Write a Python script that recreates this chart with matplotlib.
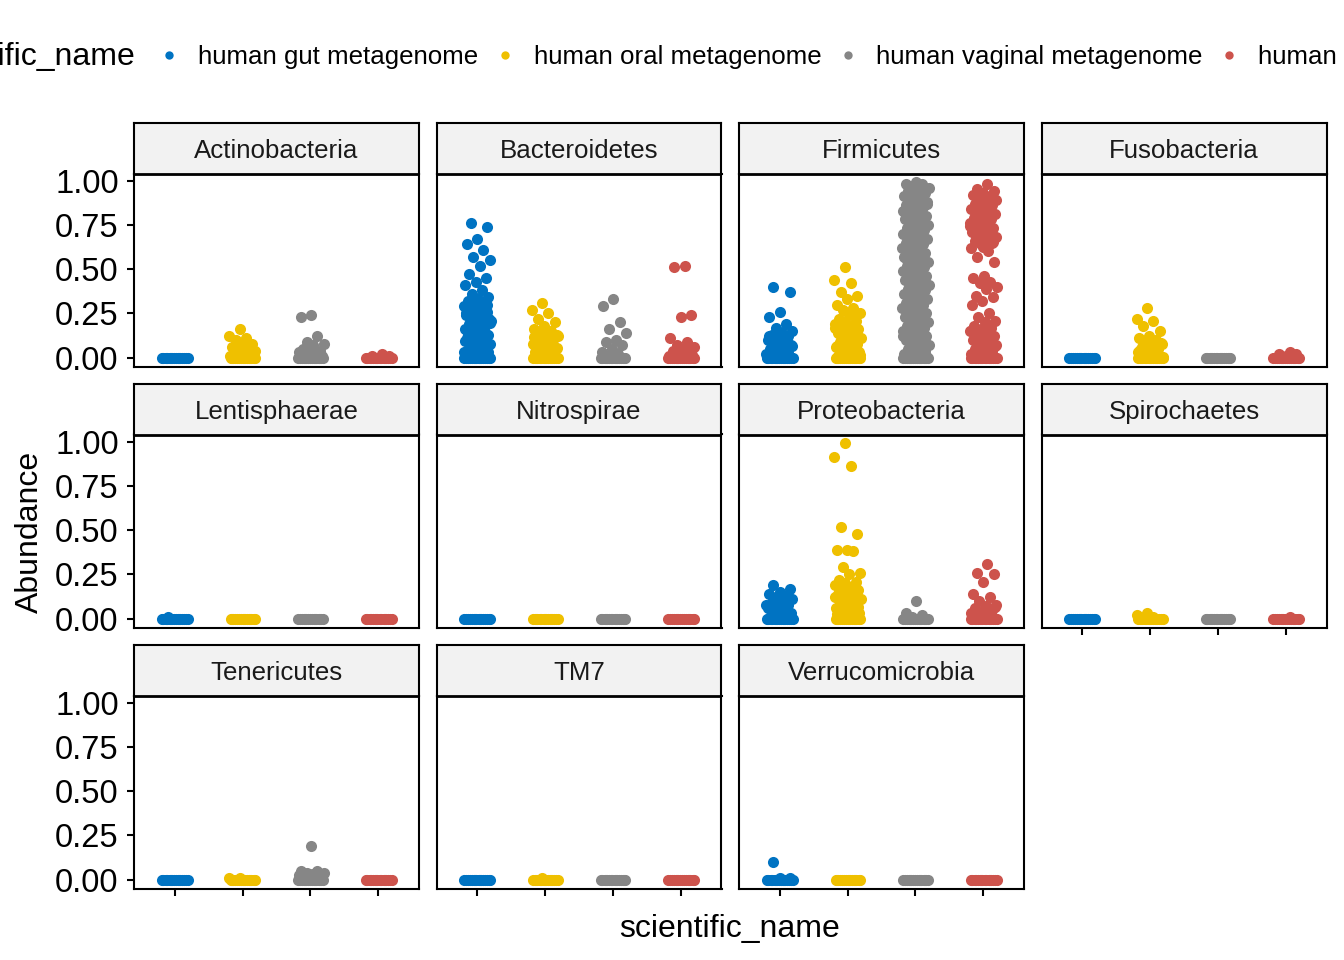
import numpy as np
import matplotlib
matplotlib.use("Agg")
import matplotlib.pyplot as plt

plt.rcParams['font.family'] = ['Liberation Sans', 'DejaVu Sans']

# groups and colours (jco palette)
groups = ["human gut metagenome", "human oral metagenome",
          "human vaginal metagenome", "human skin metagenome"]
colors = ["#0073C2", "#EFC000", "#868686", "#CD534C"]

phyla = ["Actinobacteria", "Bacteroidetes", "Firmicutes", "Fusobacteria",
         "Lentisphaerae", "Nitrospirae", "Proteobacteria", "Spirochaetes",
         "Tenericutes", "TM7", "Verrucomicrobia"]

# many samples sit at zero abundance
ZEROS = [0, 0, 0, 0, 0, 0, 0, 0, 0, 0, 0, 0, 0, 0, 0, 0]

# abundance values per phylum: [gut, oral, vaginal, other]
actinobacteria = [
    ZEROS,
    ZEROS + [0.16, 0.12, 0.11, 0.10, 0.08, 0.07, 0.06, 0.05, 0.04, 0.04,
             0.03, 0.03, 0.02, 0.02, 0.01, 0.01, 0.03, 0.02, 0.01],
    ZEROS + [0.24, 0.23, 0.12, 0.09, 0.08, 0.07, 0.05, 0.04, 0.03, 0.03,
             0.02, 0.02, 0.01, 0.01, 0.02, 0.01],
    ZEROS + [0.02, 0.01, 0.01],
]
bacteroidetes = [
    ZEROS + [0.76, 0.74, 0.67, 0.64, 0.61, 0.57, 0.55, 0.52, 0.47, 0.45,
             0.43, 0.41, 0.38, 0.36, 0.34, 0.33, 0.32, 0.31, 0.30, 0.29,
             0.28, 0.27, 0.26, 0.25, 0.24, 0.23, 0.22, 0.21, 0.20, 0.19,
             0.18, 0.17, 0.16, 0.15, 0.14, 0.13, 0.12, 0.11, 0.10, 0.09,
             0.08, 0.07, 0.06, 0.05, 0.04, 0.03, 0.02, 0.01, 0.22, 0.17,
             0.13, 0.09, 0.06, 0.03, 0.02, 0.01, 0.295, 0.275, 0.255,
             0.235, 0.215, 0.195, 0.175, 0.155, 0.135, 0.115, 0.095, 0.075,
             0.055, 0.035, 0.015, 0.005, 0.285, 0.245, 0.205, 0.165, 0.125,
             0.085, 0.045, 0.025],
    ZEROS + [0.31, 0.27, 0.25, 0.22, 0.20, 0.18, 0.16, 0.15, 0.14, 0.13,
             0.12, 0.11, 0.10, 0.09, 0.08, 0.07, 0.06, 0.05, 0.04, 0.03,
             0.02, 0.01, 0.12, 0.08, 0.05, 0.03, 0.135, 0.115, 0.095,
             0.075, 0.055, 0.035, 0.015, 0.005],
    ZEROS + [0.33, 0.29, 0.20, 0.16, 0.14, 0.10, 0.09, 0.07, 0.05, 0.03,
             0.02, 0.01],
    ZEROS + [0.52, 0.51, 0.24, 0.23, 0.11, 0.09, 0.07, 0.06, 0.05, 0.04,
             0.03, 0.02, 0.01, 0.045, 0.025, 0.015],
]
firmicutes = [
    ZEROS + [0.40, 0.37, 0.26, 0.23, 0.19, 0.17, 0.15, 0.14, 0.13, 0.12,
             0.11, 0.10, 0.09, 0.08, 0.07, 0.06, 0.05, 0.04, 0.03, 0.02,
             0.01, 0.10, 0.07, 0.04, 0.125, 0.105, 0.085, 0.065, 0.045,
             0.035, 0.025, 0.015, 0.005],
    ZEROS + [0.51, 0.44, 0.42, 0.37, 0.35, 0.33, 0.30, 0.28, 0.27, 0.25,
             0.24, 0.22, 0.21, 0.20, 0.19, 0.18, 0.17, 0.16, 0.15, 0.14,
             0.13, 0.12, 0.11, 0.10, 0.09, 0.08, 0.07, 0.06, 0.05, 0.04,
             0.03, 0.02, 0.01, 0.235, 0.195, 0.165, 0.145, 0.125, 0.105,
             0.085, 0.065, 0.045, 0.025, 0.015, 0.005],
    ZEROS + [0.99, 0.98, 0.98, 0.97, 0.96, 0.95, 0.94, 0.93, 0.92, 0.91,
             0.90, 0.89, 0.88, 0.87, 0.86, 0.85, 0.84, 0.83, 0.82, 0.81,
             0.80, 0.79, 0.78, 0.77, 0.76, 0.75, 0.74, 0.73, 0.72, 0.71,
             0.70, 0.69, 0.68, 0.67, 0.66, 0.65, 0.64, 0.63, 0.62, 0.61,
             0.60, 0.59, 0.58, 0.57, 0.56, 0.55, 0.54, 0.53, 0.52, 0.51,
             0.50, 0.49, 0.48, 0.47, 0.46, 0.45, 0.44, 0.43, 0.42, 0.41,
             0.40, 0.39, 0.38, 0.37, 0.36, 0.35, 0.34, 0.33, 0.32, 0.31,
             0.30, 0.29, 0.28, 0.27, 0.26, 0.25, 0.24, 0.23, 0.22, 0.21,
             0.20, 0.19, 0.18, 0.17, 0.16, 0.15, 0.14, 0.13, 0.12, 0.11,
             0.10, 0.09, 0.08, 0.07, 0.06, 0.05, 0.04, 0.03, 0.02, 0.01,
             0.95, 0.87, 0.72, 0.55, 0.38, 0.21, 0.12, 0.06, 0.03, 0.01],
    ZEROS + [0.98, 0.95, 0.94, 0.93, 0.92, 0.91, 0.90, 0.89, 0.88, 0.87,
             0.86, 0.85, 0.84, 0.83, 0.82, 0.81, 0.80, 0.79, 0.78, 0.77,
             0.76, 0.75, 0.74, 0.73, 0.72, 0.71, 0.70, 0.69, 0.68, 0.67,
             0.66, 0.65, 0.64, 0.62, 0.60, 0.57, 0.54, 0.46, 0.45, 0.43,
             0.42, 0.40, 0.39, 0.35, 0.34, 0.32, 0.30, 0.25, 0.23, 0.21,
             0.20, 0.18, 0.17, 0.16, 0.15, 0.14, 0.13, 0.12, 0.11, 0.10,
             0.09, 0.08, 0.07, 0.06, 0.05, 0.04, 0.03, 0.02, 0.01, 0.925,
             0.895, 0.865, 0.835, 0.805, 0.775, 0.745, 0.715, 0.685, 0.655,
             0.625, 0.155, 0.125, 0.095, 0.065, 0.035, 0.015, 0.005],
]
fusobacteria = [
    ZEROS,
    ZEROS + [0.28, 0.22, 0.21, 0.18, 0.15, 0.12, 0.11, 0.10, 0.09, 0.08,
             0.07, 0.06, 0.05, 0.04, 0.03, 0.02, 0.01, 0.085, 0.065, 0.045,
             0.025, 0.015, 0.005],
    ZEROS,
    ZEROS + [0.03, 0.02, 0.02, 0.01],
]
lentisphaerae = [ZEROS + [0.01], ZEROS, ZEROS, ZEROS]
nitrospirae = [ZEROS, ZEROS, ZEROS, ZEROS]
proteobacteria = [
    ZEROS + [0.19, 0.17, 0.15, 0.14, 0.13, 0.12, 0.11, 0.10, 0.09, 0.08,
             0.07, 0.06, 0.05, 0.04, 0.03, 0.02, 0.01, 0.115, 0.095, 0.075,
             0.055, 0.035, 0.015, 0.005],
    ZEROS + [0.99, 0.91, 0.86, 0.52, 0.48, 0.39, 0.39, 0.38, 0.29, 0.26,
             0.25, 0.22, 0.21, 0.20, 0.19, 0.18, 0.17, 0.16, 0.15, 0.14,
             0.13, 0.12, 0.11, 0.10, 0.09, 0.08, 0.07, 0.06, 0.05, 0.04,
             0.03, 0.02, 0.01, 0.185, 0.155, 0.125, 0.105, 0.085, 0.065,
             0.045, 0.025, 0.015, 0.005],
    ZEROS + [0.10, 0.03, 0.02, 0.01],
    ZEROS + [0.31, 0.26, 0.25, 0.21, 0.14, 0.12, 0.10, 0.08, 0.07, 0.06,
             0.05, 0.04, 0.03, 0.02, 0.01, 0.065, 0.045, 0.025, 0.015],
]
spirochaetes = [ZEROS, ZEROS + [0.03, 0.02, 0.01], ZEROS, ZEROS + [0.01]]
tenericutes = [
    ZEROS,
    ZEROS + [0.01, 0.01],
    ZEROS + [0.19, 0.05, 0.05, 0.04, 0.04, 0.03, 0.02, 0.01, 0.035, 0.025],
    ZEROS,
]
tm7 = [ZEROS, ZEROS + [0.01], ZEROS, ZEROS]
verrucomicrobia = [ZEROS + [0.10, 0.01, 0.01], ZEROS, ZEROS, ZEROS]

panel_data = [actinobacteria, bacteroidetes, firmicutes, fusobacteria,
              lentisphaerae, nitrospirae, proteobacteria, spirochaetes,
              tenericutes, tm7, verrucomicrobia]

W, H = 1344, 960
fig = plt.figure(figsize=(W / 100, H / 100), dpi=100)


def px_box(left, top, width, height):
    return [left / W, 1 - (top + height) / H, width / W, height / H]


col_left = [134, 436.5, 739, 1041.5]
row_top = [173.5, 434.5, 695.5]
panel_w, panel_h, strip_h = 285, 193, 51
lw = 1.5

for k, (name, data) in enumerate(zip(phyla, panel_data)):
    r, c = divmod(k, 4)
    ax = fig.add_axes(px_box(col_left[c], row_top[r], panel_w, panel_h))
    for g, vals in enumerate(data):
        vals = np.asarray(vals, dtype=float)
        idx = np.arange(len(vals))
        jit = ((idx * 0.6180339887 + 0.37 + 0.13 * g) % 1 - 0.5) * 0.4
        ax.scatter(g + 1 + jit, vals, s=64, color=colors[g], linewidths=0,
                   zorder=3)
    ax.set_xlim(0.4, 4.6)
    ax.set_ylim(-0.0495, 1.0395)
    ax.set_xticks([1, 2, 3, 4])
    ax.set_yticks([0, 0.25, 0.5, 0.75, 1.0])
    ax.tick_params(length=5, width=lw, color="black", labelsize=23.5,
                   labelcolor="black", pad=6)
    ax.set_xticklabels([])
    if c == 0:
        ax.set_yticklabels(["0.00", "0.25", "0.50", "0.75", "1.00"])
    else:
        ax.set_yticklabels([])
        ax.tick_params(axis="y", length=0)
    # x ticks only on the bottom panel of each column
    if not (r == 2 or (r == 1 and c == 3)):
        ax.tick_params(axis="x", length=0)
    for sp in ax.spines.values():
        sp.set_linewidth(lw)
        sp.set_color("black")

    sax = fig.add_axes(px_box(col_left[c], row_top[r] - strip_h, panel_w, strip_h))
    sax.set_facecolor("#F2F2F2")
    sax.set_xticks([])
    sax.set_yticks([])
    for sp in sax.spines.values():
        sp.set_linewidth(lw)
        sp.set_color("black")
    sax.spines["bottom"].set_linewidth(2.0)
    sax.spines["bottom"].set_capstyle("butt")
    sax.text(0.5, 0.45, name, ha="center", va="center", fontsize=18.6,
             color="#1A1A1A", transform=sax.transAxes)

# axis titles
fig.text(730 / W, 1 - 929 / H, "scientific_name", ha="center", va="center",
         fontsize=23)
fig.text(30 / W, 1 - 532 / H, "Abundance", ha="center", va="center",
         rotation=90, fontsize=23)

# legend on top (clipped at the figure edges like the original)
leg_y = 1 - 57 / H
fig.text(135 / W, leg_y, "scientific_name", ha="right", va="center", fontsize=23)
dot_x = [169, 505, 848, 1229]
text_x = [198, 534, 876, 1258]
lax = fig.add_axes([0, 0, 1, 1], facecolor="none")
lax.set_xlim(0, W)
lax.set_ylim(H, 0)
lax.axis("off")
for g in range(4):
    lax.scatter([dot_x[g]], [55], s=36, color=colors[g], linewidths=0)
    fig.text(text_x[g] / W, leg_y, groups[g], ha="left", va="center",
             fontsize=18.6)

fig.savefig("out.png", dpi=100)
